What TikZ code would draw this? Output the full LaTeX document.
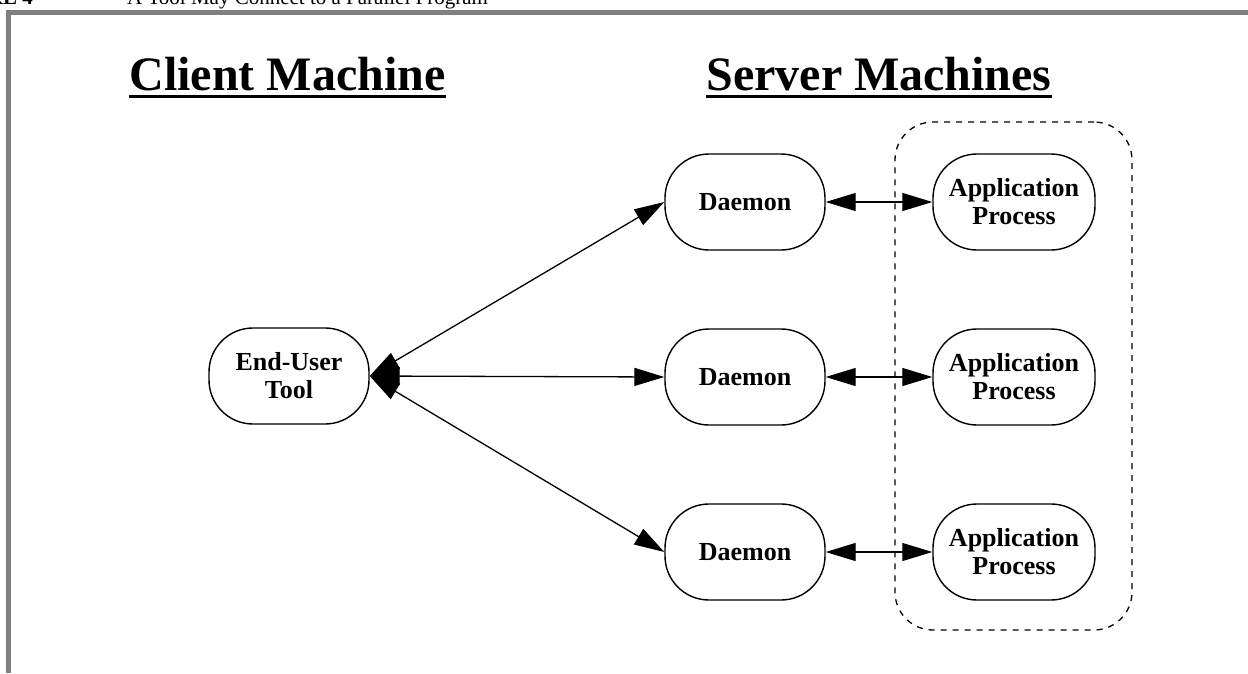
\documentclass[tikz,border=0pt]{standalone}
\usepackage{fontspec}
\setmainfont{Liberation Serif}
\usetikzlibrary{arrows.meta}

\begin{document}
\begin{tikzpicture}[x=1pt,y=-1pt,
  proc/.style={draw, line width=1.4pt, rounded corners=44pt,
    minimum width=160pt, minimum height=96pt, align=center, inner sep=0pt,
    font=\fontsize{26}{28}\selectfont\bfseries},
  groupbox/.style={draw, line width=1.3pt, dash pattern=on 6pt off 6pt,
    rounded corners=38pt, inner sep=0pt},
  heading/.style={inner sep=0pt, anchor=base,
    font=\fontsize{48}{52}\selectfont\bfseries},
  link/.style={line width=1.3pt, {Triangle[length=30pt,width=18pt]}-{Triangle[length=30pt,width=18pt]}},
  frameline/.style={draw=black!50, line width=5pt, miter limit=10}]

\useasboundingbox (0,0) rectangle (1248,673);

% caption strip, cut by the page edge
\begin{scope}
  \clip (0,0) rectangle (1248,673);
  \node (fignum) [anchor=base east, inner sep=0pt,
    font=\fontsize{21}{21}\selectfont\bfseries] at (33,4) {FIGURE 4};
  \node (figcap) [anchor=base west, inner sep=0pt,
    font=\fontsize{21}{21}\selectfont] at (127,4)
    {A Tool May Connect to a Parallel Program};
\end{scope}

% grey frame
\draw[frameline] (8.5,673) -- (8.5,12.5) -- (1250,12.5);

% headings
\node (client) [heading] at (287.5,90) {Client Machine};
\node (server) [heading] at (879,90) {Server Machines};
\draw[line width=3pt] ([yshift=-6pt]client.base west) -- ([yshift=-6pt]client.base east);
\draw[line width=3pt] ([yshift=-6pt]server.base west) -- ([yshift=-6pt]server.base east);

% group of application processes
\node (grp) [groupbox, minimum width=237pt, minimum height=508pt] at (1013.5,376) {};

% processes
\node (tool) [proc] at (289,376) {End-User\\Tool};
\node (d1) [proc] at (745,202) {Daemon};
\node (d2) [proc] at (745,377) {Daemon};
\node (d3) [proc] at (745,552) {Daemon};
\node (a1) [proc, minimum width=162pt] at (1014,202) {Application\\Process};
\node (a2) [proc, minimum width=162pt] at (1014,377) {Application\\Process};
\node (a3) [proc, minimum width=162pt] at (1014,552) {Application\\Process};

% connections
\draw[link] (tool.east) -- (d1.west);
\draw[link] (tool.east) -- (d2.west);
\draw[link] (tool.east) -- (d3.west);
\draw[link] (d1.east) -- (a1.west);
\draw[link] (d2.east) -- (a2.west);
\draw[link] (d3.east) -- (a3.west);
\end{tikzpicture}
\end{document}
